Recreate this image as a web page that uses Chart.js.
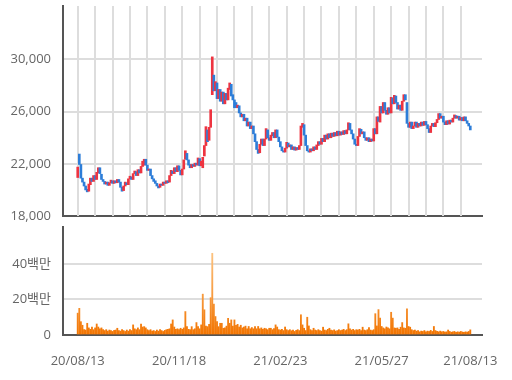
<!DOCTYPE html>
<html>
<head>
<meta charset="utf-8">
<script src="https://cdn.jsdelivr.net/npm/chart.js@4.4.1/dist/chart.umd.min.js"></script>
<style>
  body { margin: 0; background: #fff; }
  #wrap { position: relative; width: 512px; height: 380px; }
  canvas { position: absolute; left: 0; }
  #price { top: 0; }
  #vol { top: 224px; }
</style>
</head>
<body>
<div id="wrap">
  <canvas id="price" width="512" height="226"></canvas>
  <canvas id="vol" width="512" height="156"></canvas>
</div>
<script>
// daily candles, 20/08/13 .. 21/08/13 (249 trading days)
const openPrices = [
  20950, 22750, 21950, 20900, 20600, 20300, 20050, 19900, 20400, 20900,
  20650, 21100, 20800, 21300, 21700, 21200, 20800, 20650, 20450, 20600,
  20350, 20550, 20700, 20500, 20700, 20550, 20800, 20600, 20200, 19950,
  20300, 20550, 20400, 20850, 21000, 20800, 21250, 21400, 21100, 21550,
  21300, 21800, 21900, 22350, 21900, 21500, 21600, 21100, 20850, 20700,
  20500, 20300, 20200, 20450, 20350, 20600, 20500, 20700, 20600, 21100,
  21450, 21250, 21700, 21400, 21850, 21500, 21150, 21600, 22350, 22800,
  22300, 21950, 21700, 21950, 21800, 22050, 21900, 22400, 21850, 21700,
  22600, 23400, 24600, 23800, 24800, 27300, 28800, 27600, 28200, 27000,
  27700, 26800, 27500, 26600, 27400, 26900, 27700, 28100, 27300, 26900,
  26700, 26300, 26450, 25900, 25600, 25800, 25300, 25500, 24900, 25200,
  24700, 24900, 24300, 23700, 23100, 22850, 23500, 23900, 23400, 23900,
  24600, 24000, 23800, 24150, 24400, 24000, 24600, 24050, 23700, 23300,
  23000, 22900, 23200, 23600, 23300, 23450, 23100, 23300, 23050, 23250,
  23100, 23400, 24800, 25000, 24200, 23400, 23000, 22900, 23150, 23000,
  23300, 23100, 23400, 23700, 23500, 23950, 23700, 24200, 23900, 24300,
  24000, 24350, 24100, 24400, 24150, 24500, 24200, 24450, 24250, 24550,
  24300, 24600, 25100, 24600, 24300, 23900, 23500, 23400, 24100, 24650,
  24300, 24450, 24000, 23800, 24000, 23700, 23900, 23750, 24700, 24300,
  25600, 25200, 26400, 25900, 26700, 26100, 25800, 26300, 25900, 27050,
  26600, 27200, 26700, 26200, 26500, 26100, 26800, 27300, 26700, 25100,
  24800, 25200, 24700, 24900, 25200, 24800, 25100, 24900, 25200, 24950,
  25250, 25000, 24700, 24400, 24900, 25100, 24850, 25150, 25400, 25850,
  25500, 25650, 25200, 25000, 25300, 25050, 25350, 25200, 25500, 25700,
  25500, 25650, 25350, 25550, 25300, 25600, 25300, 25100, 24900
];
const closePrices = [
  21750, 21950, 20900, 20600, 20300, 20000, 19850, 20450, 20900, 20650,
  21100, 20800, 21350, 21700, 21250, 20800, 20650, 20450, 20600, 20350,
  20550, 20750, 20500, 20700, 20550, 20800, 20600, 20200, 19900, 20300,
  20600, 20400, 20850, 21050, 20800, 21250, 21450, 21100, 21550, 21300,
  21800, 22200, 22350, 21900, 21500, 21600, 21100, 20850, 20650, 20500,
  20300, 20150, 20450, 20350, 20600, 20500, 20700, 20550, 21100, 21500,
  21250, 21700, 21400, 21850, 21500, 21150, 21600, 22300, 23000, 22300,
  21900, 21700, 21950, 21800, 22050, 21900, 22450, 21850, 22200, 22500,
  23400, 24850, 23700, 24800, 26150, 30200, 27600, 28300, 27000, 27700,
  26800, 27500, 26600, 27400, 26900, 27800, 28200, 27200, 26900, 26300,
  26300, 26500, 25900, 25600, 25800, 25300, 25500, 24900, 25200, 24700,
  24900, 24300, 23700, 23100, 22800, 23500, 23900, 23400, 23900, 24700,
  24000, 23800, 24200, 24400, 24000, 24600, 24050, 23700, 23300, 23000,
  22900, 23200, 23650, 23300, 23450, 23100, 23300, 23050, 23250, 23100,
  23400, 24900, 25100, 24200, 23400, 23000, 22900, 23150, 23000, 23300,
  23100, 23450, 23700, 23500, 23950, 23700, 24200, 23900, 24300, 24000,
  24350, 24100, 24400, 24150, 24500, 24200, 24450, 24250, 24550, 24300,
  24600, 25150, 24600, 24300, 23900, 23500, 23400, 24100, 24700, 24300,
  24450, 24000, 23800, 24000, 23700, 23900, 23750, 24700, 24300, 25600,
  25250, 26400, 25900, 26700, 26100, 25800, 26300, 25900, 27100, 26600,
  27250, 26700, 26200, 26500, 26100, 26800, 27300, 26900, 25100, 24800,
  25200, 24700, 24900, 25200, 24800, 25100, 24900, 25200, 24950, 25250,
  25000, 24700, 24400, 24900, 25100, 24850, 25150, 25400, 25850, 25500,
  25650, 25200, 25000, 25300, 25050, 25350, 25200, 25500, 25750, 25500,
  25650, 25350, 25550, 25300, 25600, 25300, 25100, 24900, 24600
];
// volume in millions (백만)
const volumesM = [
  12.3, 15, 7.5, 5.5, 3, 2.8, 6.6, 4, 3.2, 4.5,
  3, 4, 6.2, 4.5, 3.5, 4, 3, 2.5, 3, 2.2,
  2.8, 2.5, 2, 2.6, 2.8, 3.8, 2.5, 2.2, 3, 2.5,
  2, 2.8, 2.2, 3, 2.5, 5.7, 3.5, 3, 4, 3,
  6.2, 4.5, 4.7, 4, 3, 2.5, 3, 2.2, 2.5, 2,
  2.8, 2.2, 3, 2.5, 2, 2.6, 3, 3.2, 3.5, 6.2,
  8.5, 4.5, 3.2, 3.5, 3, 3.8, 3.2, 4, 13.2, 4.7,
  3.2, 3, 4.7, 3, 3.5, 7, 4.7, 3.5, 5.7, 23,
  14.2, 5, 4.7, 6, 21, 46, 17.4, 10.4, 7.5, 4.7,
  6.6, 6.6, 3.8, 4, 5, 9.4, 6.6, 8.5, 5, 8.5,
  5.5, 6, 4.5, 5.5, 4, 4.5, 5, 3.5, 4.8, 3.5,
  4.2, 3.5, 4.8, 3.5, 4.8, 3.5, 4, 3.2, 3.8, 3.5,
  3, 3.8, 3.8, 3, 3.6, 5.7, 4.5, 3, 2.8, 3.2,
  2.5, 4.5, 3, 2.5, 3, 2.4, 2.8, 2, 2.6, 3,
  2.5, 11.4, 5.7, 3.8, 2.5, 10, 5.1, 3, 2.5, 3.8,
  2.8, 2.5, 3, 2.5, 2.2, 4.4, 2.8, 2.5, 3.2, 3.8,
  2.8, 2.5, 2.9, 2.2, 2.5, 3, 2.5, 2.8, 3.2, 2.5,
  3, 6.3, 3.5, 2.8, 3.2, 2.5, 3, 2.8, 3.2, 2.5,
  4.4, 2.8, 2.5, 3, 4.2, 2.8, 2.5, 3, 12, 5.1,
  14.3, 9.5, 4.8, 4, 3.5, 4.5, 4, 3.5, 12.8, 9.5,
  4, 3.8, 4, 3.2, 4.4, 7, 4, 3.8, 14.7, 4.8,
  4.4, 3, 2.5, 2.8, 2.2, 2.5, 1.8, 2.2, 2, 2.5,
  1.8, 2.2, 2, 2.6, 2, 4.8, 2.5, 2, 1.8, 2.2,
  1.8, 2, 1.6, 1.8, 2.8, 2, 1.6, 1.8, 2, 1.5,
  1.8, 1.6, 2, 1.7, 1.5, 1.8, 1.6, 2, 2.9
];

const tickDays = [0, 64, 128, 192, 248];
const tickLabels = ['20/08/13', '20/11/18', '21/02/23', '21/05/27', '21/08/13'];
const priceTicks = [18000, 22000, 26000, 30000];
const volumeTicks = [0, 20, 40];

const UP = '#ee3440';
const DOWN = '#2d7dd8';
const FONT = { family: "'Open Sans', 'Noto Sans CJK KR', sans-serif", size: 13 };
const LABEL = '#666';
const GRID = '#dddddd';
const X_MIN = -9.3, X_MAX = 255.4;

const days = openPrices.map((_, i) => i);
const gridDays = [];
for (let d = 0; d <= 242; d += 11) gridDays.push(d);

// fixed axis sizes so both panels line up
function fixY(scale) { scale.width = 63; scale.paddingTop = 0; scale.paddingBottom = 0; }
function fixX(h) {
    return scale => { scale.height = h; scale.paddingLeft = 0; scale.paddingRight = 0; };
}

// draws the vertical grid of the price panel at the x scale's positions
const dayGrid = {
    id: 'dayGrid',
    beforeDatasetsDraw(chart) {
        const { ctx, chartArea, scales } = chart;
        ctx.save();
        ctx.strokeStyle = GRID;
        ctx.lineWidth = 2;
        gridDays.forEach(d => {
            const x = Math.round(scales.x.getPixelForValue(d));
            ctx.beginPath();
            ctx.moveTo(x, chartArea.top);
            ctx.lineTo(x, chartArea.bottom);
            ctx.stroke();
        });
        ctx.restore();
    }
};

function volGradient(ctx) {
    const area = ctx.chart.chartArea;
    if (!area) return '#f58220';
    const g = ctx.chart.ctx.createLinearGradient(0, area.bottom, 0, area.top);
    g.addColorStop(0, '#f27400');
    g.addColorStop(1, '#ffdcaa');
    return g;
}

new Chart(document.getElementById('price'), {
    type: 'bar',
    data: {
        datasets: [{
            data: days.map(i => ({ x: i, y: [openPrices[i], closePrices[i]] })),
            backgroundColor: days.map(i => closePrices[i] >= openPrices[i] ? UP : DOWN),
            barThickness: 2
        }]
    },
    options: {
        responsive: false,
        animation: false,
        layout: { padding: { top: 6, right: 30, bottom: 10, left: 0 } },
        plugins: { legend: { display: false }, tooltip: { enabled: false } },
        scales: {
            x: {
                type: 'linear', min: X_MIN, max: X_MAX, offset: false,
                afterFit: fixX(0),
                ticks: { display: false },
                grid: { display: false },
                border: { display: true, color: '#555', width: 2 }
            },
            y: {
                min: 18000, max: 34100,
                afterBuildTicks: axis => { axis.ticks = priceTicks.map(v => ({ value: v })); },
                afterFit: fixY,
                ticks: { font: FONT, color: LABEL, padding: 12, callback: v => v.toLocaleString('en-US') },
                grid: {
                    color: ctx => ctx.tick && ctx.tick.value === 18000 ? 'rgba(0,0,0,0)' : GRID,
                    lineWidth: 2, drawTicks: false
                },
                border: { color: '#555', width: 2 }
            }
        }
    },
    plugins: [dayGrid]
});

new Chart(document.getElementById('vol'), {
    type: 'bar',
    data: {
        datasets: [{
            data: days.map(i => ({ x: i, y: volumesM[i] })),
            backgroundColor: volGradient,
            barThickness: 1.2
        }]
    },
    options: {
        responsive: false,
        animation: false,
        layout: { padding: { top: 3, right: 30, bottom: 14, left: 0 } },
        plugins: { legend: { display: false }, tooltip: { enabled: false } },
        scales: {
            x: {
                type: 'linear', min: X_MIN, max: X_MAX, offset: false,
                afterBuildTicks: axis => { axis.ticks = tickDays.map(v => ({ value: v })); },
                afterFit: fixX(31),
                ticks: {
                    font: FONT, color: LABEL, padding: 18, maxRotation: 0, autoSkip: false,
                    callback: v => tickLabels[tickDays.indexOf(v)]
                },
                grid: { color: 'rgba(0,0,0,0)', drawTicks: false },
                border: { color: '#555', width: 2 }
            },
            y: {
                min: 0, max: 60.8,
                afterBuildTicks: axis => { axis.ticks = volumeTicks.map(v => ({ value: v })); },
                afterFit: fixY,
                ticks: { font: FONT, color: LABEL, padding: 12, callback: v => v === 0 ? '0' : v + '백만' },
                grid: {
                    color: ctx => ctx.tick && ctx.tick.value === 0 ? 'rgba(0,0,0,0)' : GRID,
                    lineWidth: 2, drawTicks: false
                },
                border: { color: '#555', width: 2 }
            }
        }
    }
});
</script>
</body>
</html>
